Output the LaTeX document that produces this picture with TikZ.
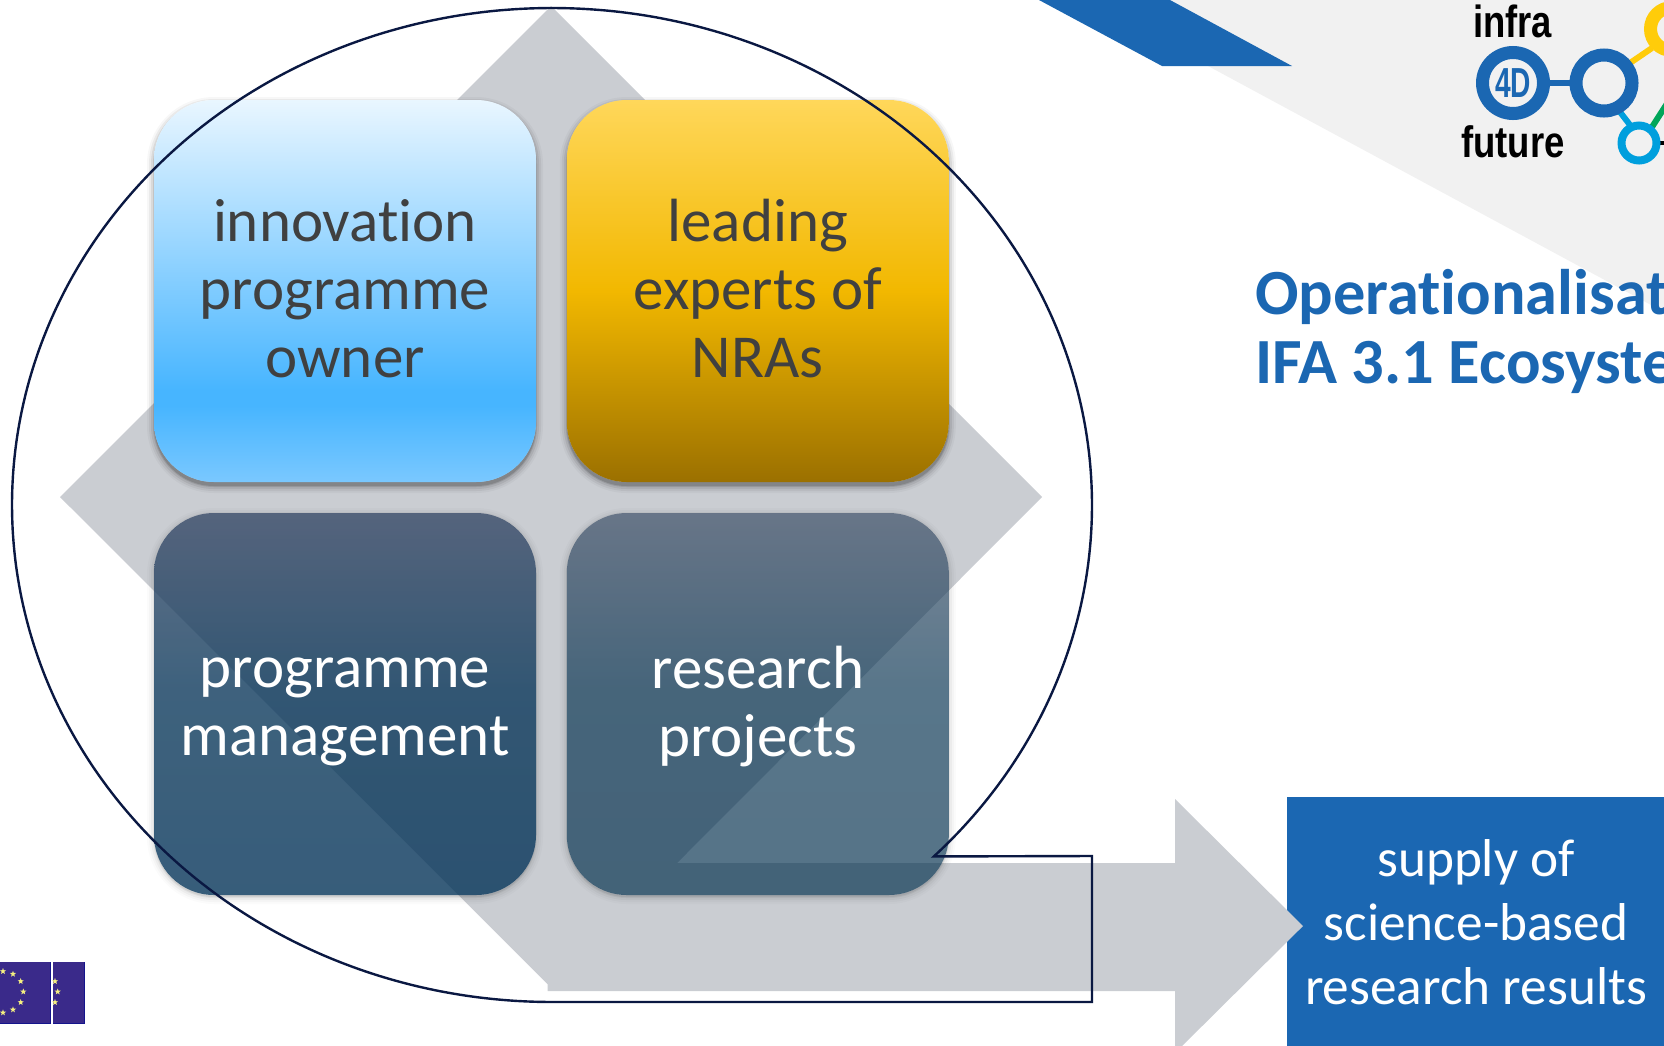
\documentclass[tikz,border=0pt]{standalone}
\usepackage{fontspec}
\setmainfont{Carlito}[Ligatures={NoCommon}]
\newfontfamily\logofont{Liberation Sans}[BoldFont={Liberation Sans Bold}]
\usetikzlibrary{shapes.geometric}
\definecolor{slateg}{RGB}{202,205,210}
\definecolor{brandblue}{RGB}{27,103,178}
\definecolor{paleg}{RGB}{241,241,241}
\definecolor{inkline}{RGB}{10,24,66}
\definecolor{darktext}{RGB}{64,64,64}
\definecolor{logoyellow}{RGB}{255,204,10}
\definecolor{logocyan}{RGB}{0,159,221}
\definecolor{logogreen}{RGB}{0,166,90}
\definecolor{flagblue}{RGB}{58,42,138}
\definecolor{flagedge}{RGB}{20,20,140}
\definecolor{flagstar}{RGB}{245,240,128}
\definecolor{aT}{RGB}{233,246,255}\definecolor{aM}{RGB}{71,181,255}\definecolor{aB}{RGB}{122,200,255}
\definecolor{bT}{RGB}{255,215,90}\definecolor{bM}{RGB}{242,184,0}\definecolor{bB}{RGB}{155,112,0}
\definecolor{cT}{RGB}{54,72,102}\definecolor{cM}{RGB}{10,55,90}\definecolor{cB}{RGB}{1,49,86}
\definecolor{dT}{RGB}{56,75,100}\definecolor{dM}{RGB}{6,50,80}\definecolor{dB}{RGB}{2,47,77}
\pgfdeclareverticalshading{tileblue}{100bp}{color(0bp)=(aB);color(25bp)=(aB);color(35bp)=(aM);color(37bp)=(aM);color(75bp)=(aT);color(100bp)=(aT)}
\pgfdeclareverticalshading{tilegold}{100bp}{color(0bp)=(bB);color(25bp)=(bB);color(50bp)=(bM);color(75bp)=(bT);color(100bp)=(bT)}
\pgfdeclareverticalshading{tilenavy}{100bp}{color(0bp)=(cB);color(25bp)=(cB);color(52bp)=(cM);color(75bp)=(cT);color(100bp)=(cT)}
\pgfdeclareverticalshading{tileslate}{100bp}{color(0bp)=(dB);color(25bp)=(dB);color(52bp)=(dM);color(75bp)=(dT);color(100bp)=(dT)}
\newcommand{\tileshadow}[4]{%
  \begin{scope}[even odd rule,rounded corners=60pt]
    \clip (-10,-10) rectangle (1700,1100) (#1-191,#2-191) rectangle (#1+191,#2+191);
    \foreach \g/\o in {7/.03,5/.05,3/.07,1/.10,0/.14}{
      \fill[black,fill opacity=#3*\o,rounded corners=60pt+\g pt]
        (#1-191-\g,#2-191-\g+#4) rectangle (#1+191+\g,#2+191+\g+#4);}
  \end{scope}}
\tikzset{
  x=1pt,y=-1pt,
  tile/.style={rectangle,minimum size=382pt,inner sep=0pt,rounded corners=60pt},
  tiletext/.style={align=center,inner sep=0pt,font=\fontsize{61}{68}\selectfont},
  supplytext/.style={align=center,inner sep=0pt,text=white,font=\fontsize{53.3}{64}\selectfont},
  titletext/.style={align=left,inner sep=0pt,anchor=north west,text=brandblue,font=\fontsize{64.4}{69}\selectfont\bfseries},
  logotext/.style={inner sep=0pt,transform shape},
  eustar/.style={star,star points=5,star point ratio=2.4,fill=flagstar,inner sep=0pt,minimum size=6.5pt},
}
\begin{document}
\begin{tikzpicture}
\useasboundingbox (0,0) rectangle (1664,1045);
\clip (0,0) rectangle (1664,1045);
% corner decoration
\fill[paleg] (1170,0) -- (1664,0) -- (1664,312) -- (1208,66) -- cycle;
\fill[brandblue] (1039,0) -- (1170,0) -- (1292,66) -- (1162,66) -- cycle;
% supply box
\fill[brandblue] (1287,797) rectangle (1664,1060);
% big gray arrow shape
\fill[slateg] (551,6) -- (1042,497) -- (677,863) -- (1175,863) -- (1175,799) -- (1303,926)
  -- (1175,1053) -- (1175,991) -- (547.5,991) -- (547.5,984) -- (60,497) -- cycle;
% tiles
\tileshadow{345}{291}{1}{4}
\tileshadow{757.8}{291}{1}{4}
\tileshadow{345}{704}{.5}{2}
\tileshadow{757.8}{704}{.5}{2}
\node[tile,shade,shading=tileblue] (b1) at (345,291) {};
\node[tile,shade,shading=tilegold] (b2) at (757.8,291) {};
\node[tile,shade,shading=tilenavy,fill opacity=.79] (b3) at (345,704) {};
\node[tile,shade,shading=tileslate,fill opacity=.67] (b4) at (757.8,704) {};
\node[tiletext,text=darktext] (t1) at (345,289) {innovation\\programme\\owner};
\node[tiletext,text=darktext] (t2) at (757.8,289) {leading\\experts of\\NRAs};
\node[tiletext,text=white] (t3) at (345,712) {programme\\management};
\node[tiletext,text=white] (t4) at (757.8,707) {research\\projects};
% teardrop outline
\draw[inkline,line width=2.4pt,line join=miter]
  plot[domain=45:-270,samples=240,smooth] ({552+540*cos(\x)},{505+497*sin(\x)})
  -- (1092,1002) -- (1092,856) -- cycle;
% title and supply text
\node[titletext] (title) at (1255,269) {Operationalisat\\IFA 3.1 Ecosyste};
\node[supplytext] (supply) at (1476,922) {supply of\\science-based\\research results};
% logo
\draw[logoyellow,line width=6pt] (1630,63) -- (1652,48);
\draw[logocyan,line width=6pt] (1620,112) -- (1630,125);
\draw[logogreen,line width=6pt] (1652,127) -- (1668,102);
\draw[black,line width=4pt] (1658,143) -- (1668,143);
\draw[brandblue,line width=6pt] (1545,83) -- (1575,83);
\draw[brandblue,line width=13pt] (1513,83) circle (30.5);
\draw[brandblue,line width=13pt] (1604,83) circle (28);
\draw[logoyellow,line width=13pt] (1672,29) circle (21.5);
\draw[logocyan,line width=8pt] (1639,143) circle (17.5);
\node[logotext,text=black,xscale=.81,font=\logofont\bfseries\fontsize{45}{45}\selectfont,anchor=base] (infra) at (1512.5,37) {infra};
\node[logotext,text=black,xscale=.83,font=\logofont\bfseries\fontsize{44}{44}\selectfont,anchor=base] (future) at (1513,157) {future};
\node[logotext,text=brandblue,xscale=.67,font=\logofont\bfseries\fontsize{42}{42}\selectfont] (fourd) at (1513,83) {4D};
% EU flag
\fill[flagblue] (-5,962) rectangle (51,1024);
\fill[flagblue] (52.5,962) rectangle (85,1024);
\fill[flagedge] (50,962) rectangle (51,1024);
\fill[flagedge] (84,962) rectangle (85,1024);
\fill[flagedge] (-5,1023) rectangle (51,1024);
\fill[flagedge] (52.5,1023) rectangle (85,1024);
\foreach \n/\sx/\sy in {a/3/971.3,b/13/974,c/20.7/981.3,d/23.3/991.7,e/20.7/1002.3,f/13/1009.7,g/3/1012.7,h/55/981.3,i/57.7/991.7,j/55/1002.3}
  \node[eustar] (star\n) at (\sx,\sy) {};
\end{tikzpicture}
\end{document}
